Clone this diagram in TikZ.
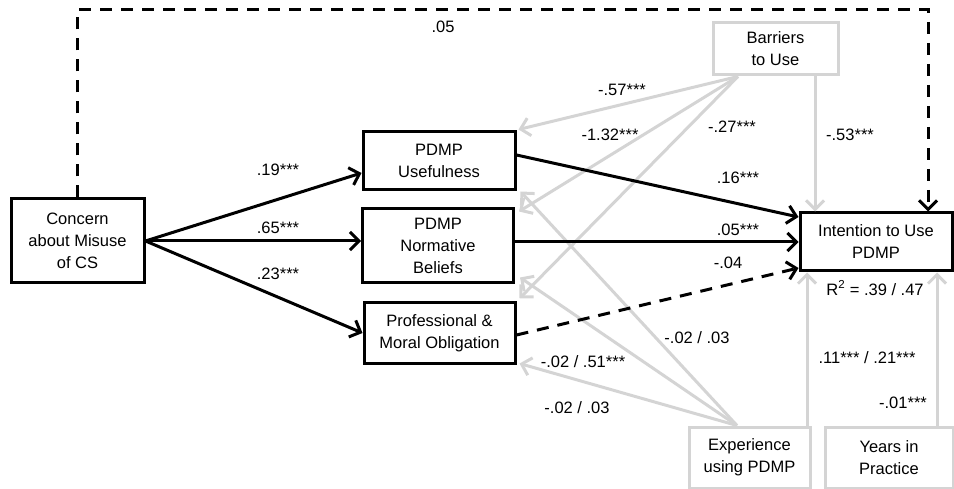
\documentclass[tikz,border=0pt]{standalone}
\usepackage{fontspec}
\setmainfont{Liberation Sans}
\usetikzlibrary{arrows.meta,calc}
\definecolor{lg}{RGB}{212,212,212}
\newcommand\sig{***}
\begin{document}
\begin{tikzpicture}[x=1pt,y=-1pt,
  font=\fontsize{16.5}{22}\selectfont,
  bx/.style={draw=black,line width=3pt,align=center,inner sep=0pt},
  gbx/.style={draw=lg,line width=3pt,align=center,inner sep=0pt},
  blk/.style={draw=black,line width=3pt,-{Straight Barb[length=9pt,width=18pt]}},
  gry/.style={draw=lg,line width=3pt,-{Straight Barb[length=9pt,width=18pt]}},
  dsh/.style={dash pattern=on 12pt off 9pt},
  lab/.style={inner sep=0pt}]
\useasboundingbox (0,0) rectangle (954,489);

% boxes
\node[bx,minimum width=133pt,minimum height=84pt] (concern) at (77.5,241) {Concern\\about Misuse\\of CS};
\node[bx,minimum width=152pt,minimum height=58pt] (useful) at (439,161) {PDMP\\Usefulness};
\node[bx,minimum width=151pt,minimum height=74pt] (norm) at (438,246) {PDMP\\Normative\\Beliefs};
\node[bx,minimum width=151pt,minimum height=60pt] (prof) at (439.5,333) {Professional \&\\Moral Obligation};
\node[bx,minimum width=152pt,minimum height=58pt] (intent) at (876,242) {Intention to Use\\PDMP};
\node[gbx,minimum width=125pt,minimum height=52pt] (barr) at (775.5,49) {Barriers\\to Use};
\node[gbx,minimum width=121pt,minimum height=61pt] (exp) at (749.5,457.5) {Experience\\using PDMP};
\node[gbx,minimum width=128pt,minimum height=61pt] (years) at (889,457.5) {Years in\\Practice};

% gray connectors
\coordinate (b0) at ([xshift=-37.5pt]barr.south);
\coordinate (b1) at ([xshift=39.5pt]barr.south);
\coordinate (e0) at ([xshift=-12.5pt]exp.north);
\coordinate (e1) at ([xshift=57.5pt]exp.north);
\coordinate (y1) at ([xshift=48pt]years.north);
\draw[gry] (b0) -- ([shift={(2pt,1pt)}]useful.north east);
\draw[gry] (b0) -- ([shift={(4pt,-4pt)}]norm.north east);
\draw[gry] (b0) -- ([shift={(3pt,3pt)}]prof.north east);
\draw[gry] (b1) -- (b1 |- intent.north);
\draw[gry] (e0) -- ([shift={(4pt,0pt)}]useful.south east);
\draw[gry] (e0) -- ([shift={(5pt,7pt)}]norm.south east);
\draw[gry] (e0) -- ([shift={(3pt,1pt)}]prof.south east);
\draw[gry] (e1) -- (e1 |- intent.south);
\draw[gry] (y1) -- (y1 |- intent.south);

% black connectors
\coordinate (tr) at (928,10);
\draw[blk,dsh] (concern.north) |- (tr) -- (tr |- intent.north);
\draw[blk] (concern.east) -- ([yshift=-12pt]useful.west);
\draw[blk] (concern.east) -- (concern.east -| norm.west);
\draw[blk] (concern.east) -- (prof.west);
\draw[blk] ([yshift=6pt]useful.east) -- ([yshift=25pt]intent.west);
\draw[blk] (intent.west -| norm.east) -- (intent.west);
\draw[blk,dsh] ([yshift=-2pt]prof.east) -- ([yshift=-26pt]intent.west);

% labels
\node[lab] (l1) at (443,27) {.05};
\node[lab] (l2) at (278,170) {.19\sig};
\node[lab] (l3) at (278,228) {.65\sig};
\node[lab] (l4) at (278,274) {.23\sig};
\node[lab] (l5) at (622,90) {-.57\sig};
\node[lab] (l6) at (610,135) {-1.32\sig};
\node[lab] (l7) at (732,127) {-.27\sig};
\node[lab] (l8) at (850,135) {-.53\sig};
\node[lab] (l9) at (738,178) {.16\sig};
\node[lab] (l10) at (738,230) {.05\sig};
\node[lab] (l11) at (728,263) {-.04};
\node[lab] (l12) at (697,338) {-.02 / .03};
\node[lab] (l13) at (583,362) {-.02 / .51\sig};
\node[lab] (l14) at (577,408) {-.02 / .03};
\node[lab] (l15) at (875,288) {R\textsuperscript{2} = .39 / .47};
\node[lab] (l16) at (867,358) {.11\sig{} / .21\sig};
\node[lab] (l17) at (903,403) {-.01\sig};
\end{tikzpicture}
\end{document}
